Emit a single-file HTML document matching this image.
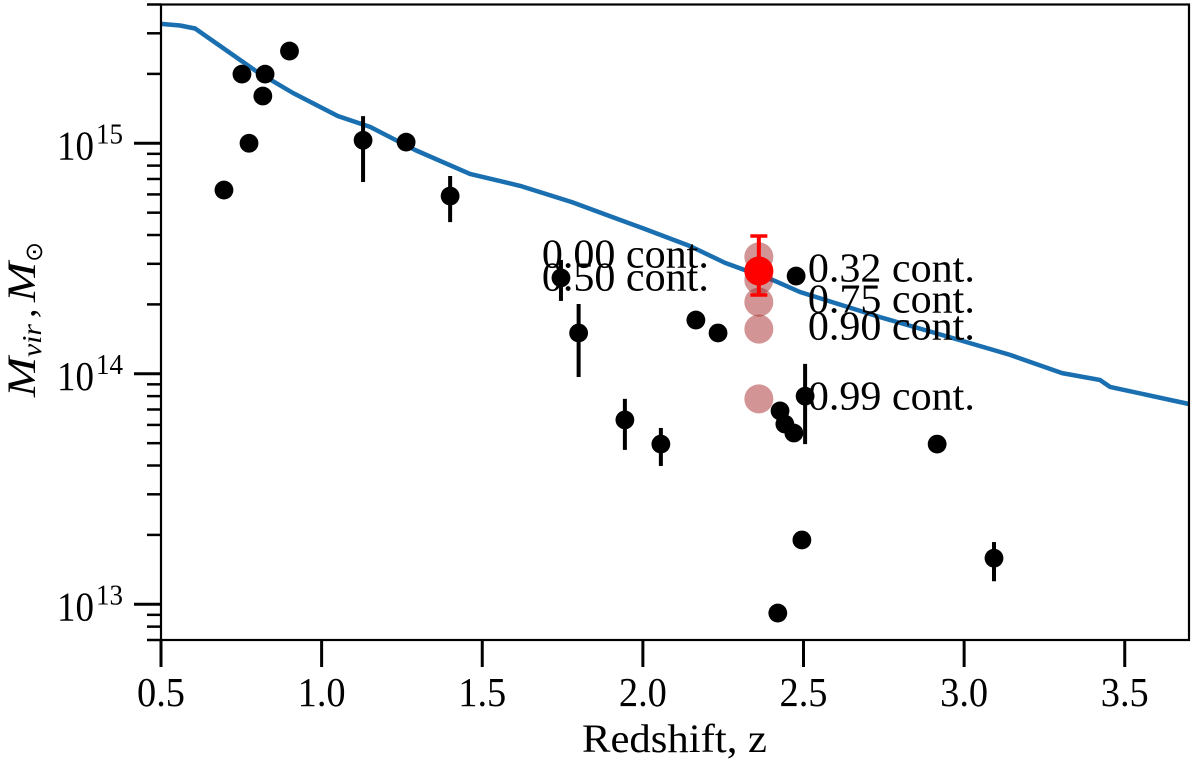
<!DOCTYPE html>
<html>
<head>
<meta charset="utf-8">
<title>Virial mass vs redshift</title>
<style>
html,body{margin:0;padding:0;background:#fff;}
svg{display:block;}
text{font-family:"Liberation Serif",serif;fill:#000;}
</style>
</head>
<body>
<svg id="chart" xmlns="http://www.w3.org/2000/svg" width="1200" height="770" viewBox="0 0 1200 770"></svg>
<script>
// Mass values are log10(M / Msun)
const xTicks = ['0.5', '1.0', '1.5', '2.0', '2.5', '3.0', '3.5'];
const yDecades = [13, 14, 15];
const yMinorFactors = [2, 3, 4, 5, 6, 7, 8, 9];
const xLimits = [0.5, 3.7];
const yLimits = [Math.log10(7e12), Math.log10(4e15)];

const curveZ = [0.5, 0.559, 0.606, 0.799, 0.911, 1.051, 1.151, 1.291, 1.462, 1.618, 1.779, 1.913, 1.997, 2.147, 2.256, 2.318, 2.411, 2.489, 2.738, 2.965, 3.143, 3.305, 3.423, 3.454, 3.7];
const curveLogM = [15.518, 15.511, 15.498, 15.31, 15.218, 15.118, 15.071, 14.971, 14.867, 14.815, 14.745, 14.676, 14.633, 14.554, 14.481, 14.45, 14.403, 14.355, 14.246, 14.155, 14.082, 14.003, 13.973, 13.943, 13.869];

const pointZ = [0.696, 0.752, 0.774, 0.817, 0.824, 0.9, 1.129, 1.263, 1.4, 1.745, 1.8, 1.944, 2.056, 2.165, 2.234, 2.477, 2.505, 2.427, 2.442, 2.47, 2.916, 2.495, 2.42, 3.093];
const pointLogM = [14.797, 15.3, 15, 15.205, 15.3, 15.4, 15.013, 15.005, 14.771, 14.416, 14.177, 13.8, 13.695, 14.233, 14.177, 14.424, 13.903, 13.839, 13.782, 13.743, 13.695, 13.279, 12.962, 13.2];
const pointLogHigh = [null, null, null, null, null, null, 15.118, null, 14.858, 14.494, 14.303, 13.891, 13.765, null, null, null, 14.043, null, null, null, null, null, null, 13.27];
const pointLogLow = [null, null, null, null, null, null, 14.832, null, 14.658, 14.316, 13.986, 13.67, 13.6, null, null, null, 13.695, null, null, null, null, null, null, 13.1];

const contourZ = 2.361;
const contourLevels = ['0.00', '0.32', '0.50', '0.75', '0.90', '0.99'];
const contourLogM = [14.507, 14.446, 14.407, 14.311, 14.194, 13.891];
const contourSides = ['left', 'right', 'left', 'right', 'right', 'right'];

const redZ = 2.361;
const redLogM = 14.446;
const redLogHigh = 14.598;
const redLogLow = 14.342;

const plotLeft = 161, plotRight = 1189, plotTop = 4.5, plotBottom = 640;
const svg = document.getElementById('chart');
const NS = 'http://www.w3.org/2000/svg';

function xScale(z) {
  return plotLeft + (z - xLimits[0]) / (xLimits[1] - xLimits[0]) * (plotRight - plotLeft);
}
function yScale(logM) {
  return plotBottom - (logM - yLimits[0]) / (yLimits[1] - yLimits[0]) * (plotBottom - plotTop);
}
function make(tag, attrs, text) {
  const el = document.createElementNS(NS, tag);
  for (const k in attrs) el.setAttribute(k, attrs[k]);
  if (text !== undefined) el.textContent = text;
  svg.appendChild(el);
  return el;
}

// model curve
const curvePts = curveZ.map((z, i) => xScale(z).toFixed(1) + ',' + yScale(curveLogM[i]).toFixed(1)).join(' ');
const curve = make('polyline', {points: curvePts, fill: 'none', stroke: '#1a6fb0', 'stroke-width': 4.5, 'stroke-linejoin': 'round'});



// black data points with error bars
pointZ.forEach((z, i) => {
  if (pointLogHigh[i] !== null) {
    const bar = make('line', {x1: xScale(z), x2: xScale(z), y1: yScale(pointLogHigh[i]), y2: yScale(pointLogLow[i]), stroke: '#000', 'stroke-width': 4});
    
    
  }
  const dot = make('circle', {cx: xScale(z), cy: yScale(pointLogM[i]), r: 9.4, fill: '#000'});
  
  
});

// contamination markers
contourLogM.forEach((m) => {
  const dot = make('circle', {cx: xScale(contourZ), cy: yScale(m), r: 14.5, fill: '#a52a2a', 'fill-opacity': 0.5});
  
  
});

// red measurement
const redBar = make('line', {x1: xScale(redZ), x2: xScale(redZ), y1: yScale(redLogHigh), y2: yScale(redLogLow), stroke: '#f00', 'stroke-width': 4});


[redLogHigh, redLogLow].forEach((m) => {
  const cap = make('line', {x1: xScale(redZ) - 8.5, x2: xScale(redZ) + 8.5, y1: yScale(m), y2: yScale(m), stroke: '#f00', 'stroke-width': 3.5});
  
  
});
const redDot = make('circle', {cx: xScale(redZ), cy: yScale(redLogM), r: 14.5, fill: '#f00'});



// contamination labels
contourLevels.forEach((lev, i) => {
  const left = contourSides[i] === 'left';
  const px = xScale(contourZ);
  const label = make('text', {
    x: left ? px - 217 : px + 49,
    y: yScale(contourLogM[i]) + 10.5,
    'font-size': 41,
    textLength: 167,
    lengthAdjust: 'spacingAndGlyphs'
  }, lev + ' cont.');
  
  
});

// frame
const frame = make('rect', {x: plotLeft, y: plotTop, width: plotRight - plotLeft, height: plotBottom - plotTop, fill: 'none', stroke: '#000', 'stroke-width': 2.2});



// x ticks
xTicks.forEach((t) => {
  const px = xScale(parseFloat(t));
  const tick = make('line', {x1: px, x2: px, y1: plotBottom, y2: plotBottom + 27, stroke: '#000', 'stroke-width': 3});
  
  
  const label = make('text', {x: px - 24, y: 706, 'font-size': 41, textLength: 48, lengthAdjust: 'spacingAndGlyphs'}, t);
  
  
});

// y ticks
yDecades.forEach((d) => {
  const py = yScale(d);
  const tick = make('line', {x1: plotLeft - 27, x2: plotLeft, y1: py, y2: py, stroke: '#000', 'stroke-width': 3});
  
  
  const base = make('text', {x: 57, y: py + 16, 'font-size': 41, textLength: 37, lengthAdjust: 'spacingAndGlyphs'}, '10');
  
  
  const sup = make('text', {x: 96, y: py, 'font-size': 28, textLength: 27, lengthAdjust: 'spacingAndGlyphs'}, String(d));
  
  
});
[12, 13, 14, 15].forEach((d) => {
  yMinorFactors.forEach((f) => {
    const lm = d + Math.log10(f);
    if (lm < yLimits[0] - 1e-6 || lm > yLimits[1] + 1e-6) return;
    const py = yScale(lm);
    const tick = make('line', {x1: plotLeft - 14, x2: plotLeft, y1: py, y2: py, stroke: '#000', 'stroke-width': 2.5});
    
    
  });
});
</script>
<svg xmlns="http://www.w3.org/2000/svg" width="1200" height="770" viewBox="0 0 1200 770" style="position:absolute;left:0;top:0;pointer-events:none">
  <text x="582" y="752" font-size="40" textLength="185" lengthAdjust="spacingAndGlyphs">Redshift, z</text>
  <g transform="translate(35 397) rotate(-90)">
    <text x="0" y="0" font-size="40" font-style="italic" textLength="40" lengthAdjust="spacingAndGlyphs">M</text>
    <text x="40" y="6" font-size="27" font-style="italic" textLength="33" lengthAdjust="spacingAndGlyphs">vir</text>
    <text x="79" y="0" font-size="38" font-style="italic">,</text>
    <text x="95" y="0" font-size="40" font-style="italic" textLength="40" lengthAdjust="spacingAndGlyphs">M</text>
    <text x="135" y="7" font-size="24" style="font-family:'DejaVu Sans',sans-serif">⊙</text>
  </g>
</svg>
</body>
</html>
